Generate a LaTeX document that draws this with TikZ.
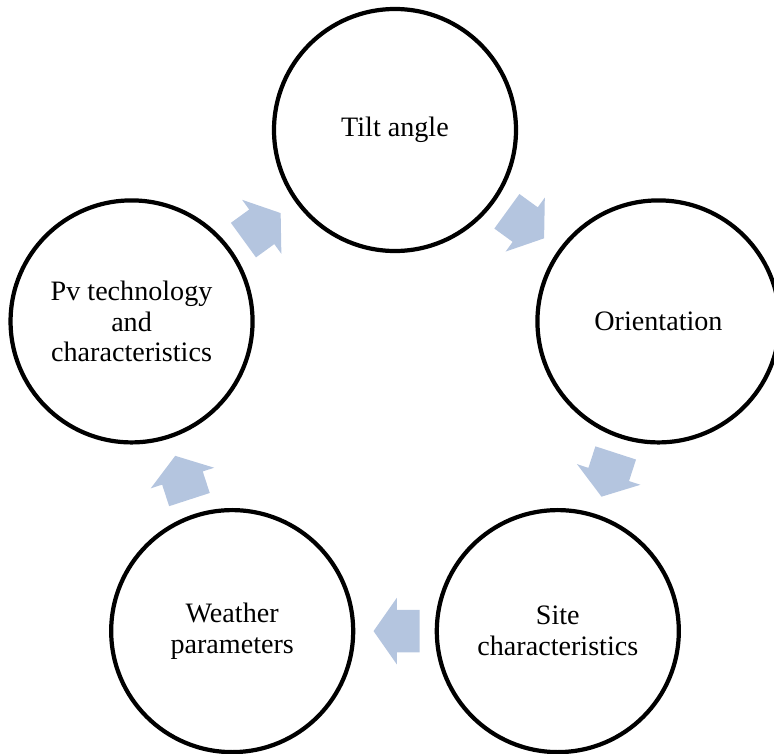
\documentclass[tikz,border=0pt]{standalone}
\usepackage{fontspec}
\setmainfont{Liberation Serif}
\usetikzlibrary{positioning,shapes.arrows,calc}

\definecolor{cyclearrow}{RGB}{180,197,223}

\begin{document}
\begin{tikzpicture}[
  stage/.style={circle,draw=black,line width=2.4pt,fill=white,minimum size=48.4mm,
                inner sep=0pt,align=center,font=\fontsize{16}{17.5}\selectfont},
  flow/.style={single arrow,fill=cyclearrow,draw=none,minimum height=9.2mm,
               single arrow head extend=2.4mm,single arrow tip angle=110,
               inner xsep=0pt,inner ysep=4.2mm},
]
\useasboundingbox (-79mm,81.4mm) rectangle (75.8mm,-69.2mm);
\clip (-79mm,81.4mm) rectangle (75.8mm,-69.2mm);

% ---------- stages of the cycle ----------
\node[stage] (tilt)    at (90:55.4mm)   {Tilt angle};
\node[stage] (orient)  at (18:55.4mm)   {Orientation};
\node[stage] (site)    at (-54:55.4mm)  {Site\\characteristics};
\node[stage] (weather) at (-126:55.4mm) {Weather\\parameters};
\node[stage] (pv)      at (162:55.4mm)  {Pv technology\\and\\characteristics};

% ---------- block arrows ----------
\node[flow,rotate=-36,xshift=-1.8mm]  (tiltorient)  at ($(tilt)!0.5!(orient)$)  {};
\node[flow,rotate=-108,xshift=-1.8mm] (orientsite)  at ($(orient)!0.5!(site)$)  {};
\node[flow,rotate=180,xshift=-1.8mm]  (siteweather) at ($(site)!0.5!(weather)$) {};
\node[flow,rotate=108,xshift=-1.8mm]  (weatherpv)   at ($(weather)!0.5!(pv)$)   {};
\node[flow,rotate=36,xshift=-1.8mm]   (pvtilt)      at ($(pv)!0.5!(tilt)$)      {};
\end{tikzpicture}
\end{document}
